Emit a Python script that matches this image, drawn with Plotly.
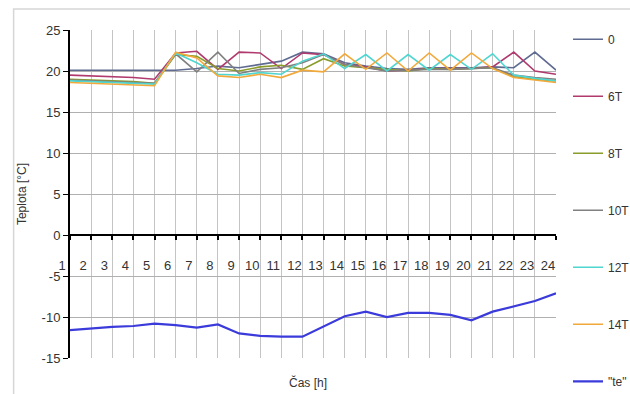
import plotly.graph_objects as go

hours = list(range(1, 25))
hour_labels = [str(h) for h in hours]

s_0 = [20.1, 20.1, 20.1, 20.1, 20.1, 20.1, 20.3, 20.6, 20.4, 20.8, 21.2, 22.3,
       22.1, 21.0, 20.6, 20.3, 20.2, 20.4, 20.4, 20.4, 20.5, 20.4, 22.3, 20.1]
s_6T = [19.5, 19.4, 19.3, 19.2, 19.0, 22.2, 22.4, 20.2, 22.3, 22.2, 20.3, 22.2,
        22.0, 20.8, 20.5, 20.0, 20.1, 20.3, 20.3, 20.3, 20.5, 22.3, 20.0, 19.6]
s_8T = [19.0, 18.9, 18.8, 18.7, 18.5, 22.0, 21.8, 20.3, 20.0, 20.5, 20.7, 20.2,
        21.5, 20.6, 20.4, 20.2, 20.0, 20.3, 20.2, 20.3, 20.4, 19.3, 19.0, 18.8]
s_10T = [18.9, 18.8, 18.7, 18.6, 18.5, 22.1, 19.9, 22.3, 19.7, 20.2, 20.4, 21.0,
         22.0, 20.8, 20.4, 20.0, 20.1, 20.2, 20.2, 20.3, 20.4, 19.5, 19.2, 19.0]
s_12T = [18.8, 18.7, 18.6, 18.5, 18.4, 22.2, 21.0, 19.6, 19.5, 19.8, 19.6, 21.2,
         22.1, 20.3, 22.0, 20.0, 22.0, 20.1, 22.0, 20.2, 22.1, 19.5, 19.1, 18.8]
s_14T = [18.6, 18.5, 18.4, 18.3, 18.2, 22.3, 21.6, 19.4, 19.2, 19.6, 19.2, 20.1,
         19.9, 22.1, 20.2, 22.2, 20.0, 22.2, 20.1, 22.2, 20.3, 19.2, 18.9, 18.6]
s_te = [-11.6, -11.4, -11.2, -11.1, -10.8, -11.0, -11.3, -10.9, -12.0, -12.3, -12.4, -12.4,
        -11.2, -9.9, -9.35, -10.0, -9.5, -9.5, -9.75, -10.4, -9.35, -8.7, -8.05, -7.1]

series_names = ["0", "6T", "8T", "10T", "12T", "14T", "\"te\""]
series_values = [s_0, s_6T, s_8T, s_10T, s_12T, s_14T, s_te]
series_colors = ["#5f6b91", "#b03a6e", "#8a9c2a", "#808080", "#4fd6d0", "#f2a93b", "#3b3bdb"]
series_widths = [1.6, 1.6, 1.6, 1.6, 1.6, 1.6, 2.2]

y_ticks = [25, 20, 15, 10, 5, 0, -5, -10, -15]
y_ticktext = ["25", "20", "15", "10", "5", "0", "-5", "-10", "-15"]

fig = go.Figure()
for name, vals, col, w in zip(series_names, series_values, series_colors, series_widths):
    fig.add_trace(go.Scatter(x=hours, y=vals, mode="lines", name=name,
                             legendgroup=name,
                             line=dict(color=col, width=w)))

fig.update_layout(
    width=630, height=394,
    margin=dict(l=70, r=51, t=30, b=36),
    paper_bgcolor="white", plot_bgcolor="white",
    font=dict(family="Liberation Sans, Arial, sans-serif", size=12, color="#333333"),
    showlegend=True,
    legend=dict(xref="container", yref="container",
                x=0.9016, xanchor="left", y=0.937, yanchor="top",
                tracegroupgap=38, itemwidth=30, maxheight=1,
                font=dict(size=12, color="#333333"),
                bgcolor="rgba(0,0,0,0)"),
    xaxis=dict(
        range=[1, 24], tickmode="array", tickvals=hours, ticktext=hour_labels,
        anchor="free", position=0.375,
        showline=True, linecolor="black", linewidth=2,
        ticks="outside", ticklen=4, tickcolor="black", tickwidth=1.5,
        ticklabelstandoff=14, ticklabelshift=-8,
        showgrid=True, gridcolor="#c4c4c4", gridwidth=1,
        zeroline=False, tickfont=dict(size=13, color="#333333"),
    ),
    yaxis=dict(
        range=[-15, 25], tickmode="array", tickvals=y_ticks, ticktext=y_ticktext,
        showline=True, linecolor="black", linewidth=2,
        ticks="outside", ticklen=5, tickcolor="black",
        showgrid=True, gridcolor="#b0b0b0", gridwidth=1,
        zeroline=False, tickfont=dict(size=13, color="#333333"),
        title=dict(text="Teplota [°C]", standoff=12, font=dict(size=12, color="#333333")),
    ),
    annotations=[dict(text="Čas [h]", xref="paper", yref="paper", x=0.49, y=-0.076,
                      showarrow=False, xanchor="center", yanchor="middle",
                      font=dict(size=12, color="#333333"))],
    shapes=[dict(type="rect", xref="paper", yref="paper",
                 x0=-0.116, y0=-0.2, x1=1.3, y1=1.064,
                 line=dict(color="#d6d6d6", width=1.5), fillcolor="rgba(0,0,0,0)",
                 layer="below")],
)

fig.write_html("out.html")
